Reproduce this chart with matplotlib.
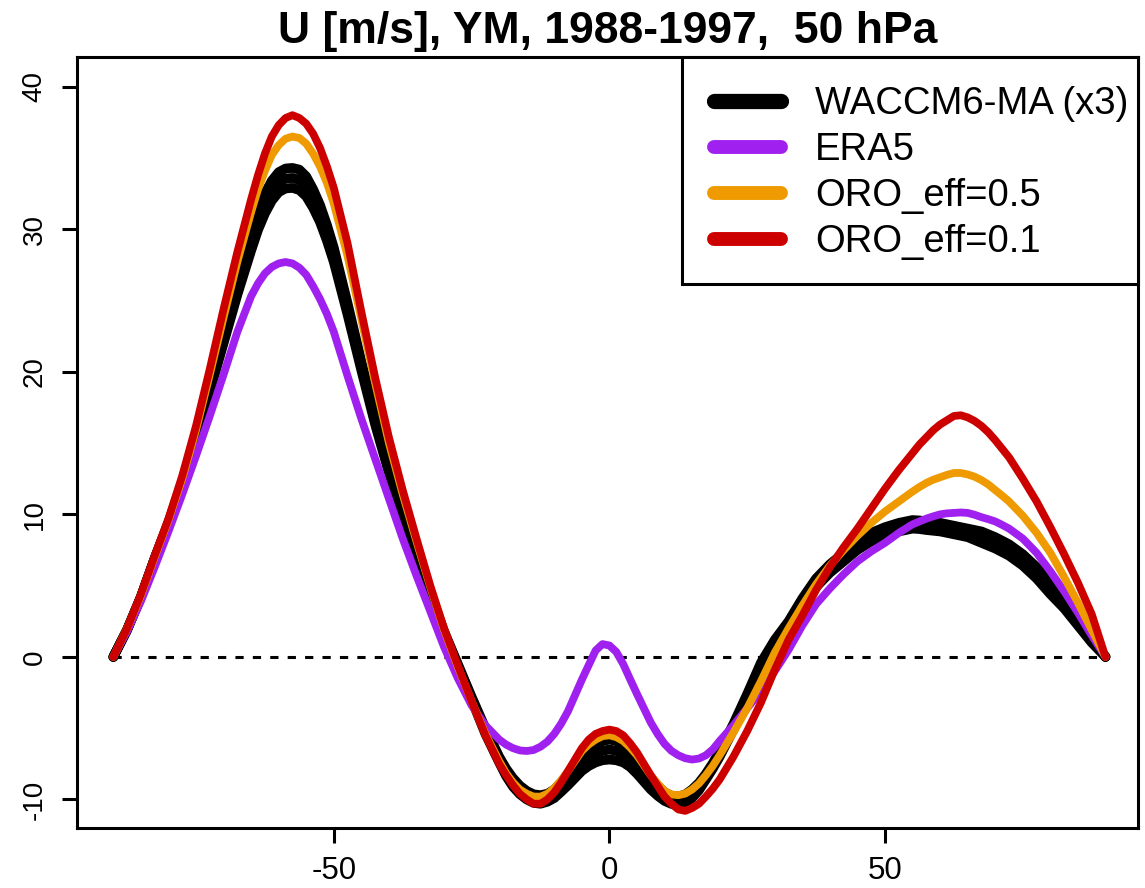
import numpy as np
import matplotlib
matplotlib.use("Agg")
import matplotlib.pyplot as plt
from matplotlib.lines import Line2D
from matplotlib.patches import Rectangle

# Latitude (degrees); finer spacing near the jet maxima and tropical minima
lat = [-90, -87.5, -85, -82.5, -80, -77.5, -75, -72.5, -70, -67.5, -65,
       -63.75, -62.5, -61.25, -60, -58.75, -57.5, -56.25, -55, -53.75, -52.5, -51.25, -50,
       -47.5, -45, -42.5, -40, -37.5, -35, -32.5, -30, -27.5, -25, -22.5, -20,
       -18.75, -17.5, -16.25, -15, -13.75, -12.5, -11.25, -10, -8.75, -7.5, -5,
       -3.75, -2.5, -1.25, 0, 1.25, 2.5, 3.75, 5, 7.5,
       8.75, 10, 11.25, 12.5, 13.75, 15, 16.25, 17.5, 18.75, 20,
       22.5, 25, 27.5, 30, 32.5, 35, 37.5, 40, 42.5, 45, 47.5, 50, 52.5, 55,
       56.25, 57.5, 58.75, 60, 61.25, 62.5, 63.75, 65, 66.25, 67.5, 68.75, 70, 71.25, 72.5,
       75, 77.5, 80, 82.5, 85, 87.5, 90]

# Zonal-mean zonal wind at 50 hPa, yearly mean 1988-1997 [m/s]
waccm_r1 = [0, 1.9, 4.2, 6.9, 9.4, 12.3, 15.6, 19.2, 22.8, 26.4, 29.7,
            31.25, 32.5, 33.4, 34.0, 34.26, 34.3, 34.18, 33.7, 32.8, 31.7, 30.3, 28.7,
            24.8, 20.7, 16.9, 13.3, 10.1, 7.2, 4.5, 1.8, -0.5, -2.8, -5.0, -7.0,
            -7.83, -8.5, -9.03, -9.4, -9.64, -9.7, -9.6, -9.3, -8.8, -8.2, -7.0,
            -6.55, -6.2, -5.9, -5.8, -5.9, -6.2, -6.6, -7.2, -8.5,
            -9.05, -9.5, -9.74, -9.8, -9.65, -9.3, -8.83, -8.2, -7.46, -6.6,
            -4.7, -2.6, -0.4, 1.2, 2.5, 4.1, 5.5, 6.5, 7.3, 8.1, 8.7, 9.1, 9.4, 9.6,
            9.57, 9.5, 9.45, 9.4, 9.3, 9.2, 9.1, 9.0, 8.9, 8.8, 8.6, 8.4, 8.15, 7.9,
            7.2, 6.3, 5.2, 4.0, 2.8, 1.4, 0]
waccm_r2 = [0, 1.9, 4.2, 6.9, 9.4, 12.2, 15.4, 18.9, 22.4, 25.9, 29.1,
            30.6, 31.8, 32.7, 33.3, 33.55, 33.6, 33.45, 33.0, 32.2, 31.1, 29.75, 28.2,
            24.4, 20.4, 16.6, 13.1, 9.9, 7.1, 4.4, 1.7, -0.6, -2.9, -5.2, -7.2,
            -8.09, -8.8, -9.33, -9.7, -9.94, -10.0, -9.88, -9.6, -9.11, -8.6, -7.5,
            -7.1, -6.8, -6.58, -6.5, -6.58, -6.8, -7.18, -7.7, -8.9,
            -9.39, -9.8, -10.03, -10.1, -9.95, -9.6, -9.09, -8.4, -7.65, -6.8,
            -4.9, -2.8, -0.6, 1.0, 2.3, 3.9, 5.2, 6.2, 7.0, 7.8, 8.4, 8.8, 9.1, 9.3,
            9.27, 9.2, 9.15, 9.1, 9.0, 8.9, 8.8, 8.7, 8.55, 8.4, 8.2, 8.0, 7.75, 7.5,
            6.8, 5.9, 4.8, 3.7, 2.5, 1.2, 0]
waccm_r3 = [0, 1.9, 4.2, 6.9, 9.4, 12.1, 15.2, 18.6, 22.0, 25.4, 28.5,
            29.95, 31.1, 32.0, 32.6, 32.86, 32.9, 32.75, 32.3, 31.5, 30.5, 29.2, 27.7,
            24.0, 20.1, 16.3, 12.9, 9.7, 7.0, 4.3, 1.6, -0.7, -3.0, -5.4, -7.4,
            -8.35, -9.1, -9.63, -10.0, -10.24, -10.3, -10.16, -9.9, -9.46, -9.0, -8.0,
            -7.65, -7.4, -7.25, -7.2, -7.25, -7.4, -7.72, -8.2, -9.3,
            -9.74, -10.1, -10.31, -10.4, -10.25, -9.9, -9.35, -8.6, -7.84, -7.0,
            -5.1, -3.0, -0.8, 0.8, 2.1, 3.7, 4.9, 5.9, 6.7, 7.5, 8.1, 8.5, 8.8, 9.0,
            8.97, 8.9, 8.85, 8.8, 8.7, 8.6, 8.5, 8.4, 8.2, 8.0, 7.8, 7.6, 7.35, 7.1,
            6.4, 5.5, 4.4, 3.4, 2.2, 1.0, 0]
era5 = [0, 1.8, 3.9, 6.3, 8.8, 11.4, 14.1, 16.9, 19.8, 22.8, 25.3,
        26.2, 26.9, 27.35, 27.6, 27.7, 27.6, 27.3, 26.8, 26.0, 25.1, 24.05, 22.8,
        19.7, 16.7, 13.9, 11.1, 8.3, 5.7, 3.2, 0.7, -1.5, -3.4, -4.8, -5.8,
        -6.15, -6.4, -6.56, -6.6, -6.53, -6.3, -5.94, -5.4, -4.68, -3.8, -1.6,
        -0.57, 0.45, 0.9, 0.8, 0.35, -0.5, -1.56, -2.6, -4.6,
        -5.41, -6.1, -6.59, -6.9, -7.11, -7.2, -7.13, -6.9, -6.49, -5.9,
        -4.8, -3.6, -2.4, -1.0, 0.5, 2.2, 3.7, 4.8, 5.8, 6.7, 7.4, 8.0, 8.7, 9.3,
        9.5, 9.7, 9.86, 10.0, 10.07, 10.1, 10.13, 10.1, 9.97, 9.8, 9.66, 9.5, 9.26, 9.0,
        8.3, 7.3, 6.0, 4.6, 3.1, 1.5, 0]
oro_05 = [0, 2.0, 4.3, 7.0, 9.6, 12.5, 15.9, 19.8, 23.8, 27.7, 31.2,
          32.8, 34.1, 35.2, 35.9, 36.35, 36.5, 36.4, 36.0, 35.3, 34.4, 33.25, 31.8,
          28.1, 23.7, 19.2, 15.0, 11.4, 8.1, 4.9, 1.9, -0.7, -3.1, -5.4, -7.3,
          -8.15, -8.8, -9.3, -9.6, -9.8, -9.8, -9.6, -9.2, -8.65, -8.0, -6.6,
          -6.14, -5.8, -5.56, -5.5, -5.63, -5.9, -6.35, -6.9, -8.3,
          -8.89, -9.4, -9.65, -9.7, -9.59, -9.3, -8.88, -8.3, -7.65, -6.9,
          -5.3, -3.6, -1.7, 0.3, 2.0, 3.6, 5.1, 6.4, 7.5, 8.5, 9.4, 10.2, 10.9, 11.6,
          11.92, 12.2, 12.43, 12.6, 12.77, 12.9, 12.9, 12.8, 12.64, 12.4, 12.09, 11.7, 11.31, 10.9,
          9.9, 8.7, 7.3, 5.6, 3.8, 1.9, 0]
oro_01 = [0, 2.0, 4.4, 7.1, 9.7, 12.7, 16.2, 20.2, 24.4, 28.4, 32.1,
          33.8, 35.3, 36.5, 37.3, 37.8, 38.0, 37.8, 37.4, 36.7, 35.7, 34.4, 32.9,
          29.0, 24.2, 19.6, 15.4, 11.7, 8.3, 5.0, 2.0, -0.6, -3.1, -5.5, -7.5,
          -8.3, -9.0, -9.6, -10.0, -10.3, -10.3, -10.0, -9.5, -8.8, -8.0, -6.4,
          -5.8, -5.4, -5.2, -5.1, -5.2, -5.5, -6.05, -6.7, -8.3,
          -9.05, -9.8, -10.3, -10.7, -10.8, -10.6, -10.3, -9.8, -9.25, -8.6,
          -7.0, -5.2, -3.2, -0.9, 1.2, 2.9, 4.7, 6.3, 7.7, 9.0, 10.4, 11.8, 13.1, 14.3,
          14.9, 15.4, 15.9, 16.3, 16.6, 16.9, 16.95, 16.8, 16.55, 16.2, 15.75, 15.2, 14.6, 14.0,
          12.5, 10.9, 9.1, 7.2, 5.2, 3.0, 0]

labels = ["WACCM6-MA (x3)", "ERA5", "ORO_eff=0.5", "ORO_eff=0.1"]
colors = ["#000000", "#A020F0", "#EE9A00", "#CD0000"]
xticks = [-50, 0, 50]
yticks = [-10, 0, 10, 20, 30, 40]
title = "U [m/s], YM, 1988-1997,  50 hPa"

plt.rcParams["font.family"] = ["Liberation Sans", "DejaVu Sans"]

fig = plt.figure(figsize=(11.45, 8.88), dpi=100)
ax = fig.add_axes([0.0672, 0.0676, 0.9267, 0.8682])

ax.plot([lat[0], lat[-1]], [0, 0], color="black", lw=2.2, ls=(0, (2.7, 3.0)), zorder=1)

for run in (waccm_r1, waccm_r2, waccm_r3):
    ax.plot(lat, run, color=colors[0], lw=7.0, solid_capstyle="round",
            solid_joinstyle="round", zorder=2)
ax.plot(lat, era5, color=colors[1], lw=5.6, solid_capstyle="round", zorder=3)
ax.plot(lat, oro_05, color=colors[2], lw=5.6, solid_capstyle="round", zorder=4)
ax.plot(lat, oro_01, color=colors[3], lw=5.6, solid_capstyle="round", zorder=5)

ax.set_xlim(-96.6, 95.9)
ax.set_ylim(-12.0, 42.08)
ax.set_xticks(xticks)
ax.set_yticks(yticks)
ax.set_xticklabels([str(v) for v in xticks])
ax.set_yticklabels([str(v) for v in yticks], rotation=90, va="center")
ax.tick_params(axis="both", width=2.2, length=11, color="black")
ax.tick_params(axis="x", pad=9, labelsize=22.5)
ax.tick_params(axis="y", pad=10, labelsize=20)
for sp in ax.spines.values():
    sp.set_linewidth(2.2)

ax.set_title(title, fontsize=32, fontweight="bold", pad=10)

# Legend frame anchored to the top-right corner of the plot box
ax.add_patch(Rectangle((0.5702, 0.7056), 0.4298, 0.2944, transform=ax.transAxes,
                       facecolor="white", edgecolor="black", lw=2.2, zorder=6,
                       clip_on=False))
handles = [Line2D([], [], color=c, lw=11 if i == 0 else 10, solid_capstyle="round")
           for i, c in enumerate(colors)]
leg = ax.legend(handles, labels, loc="upper left", bbox_to_anchor=(0.6004, 0.962),
                fontsize=27.5, frameon=False, borderaxespad=0, borderpad=0,
                handlelength=1.75, handletextpad=0.9, labelspacing=0.26)
leg.set_zorder(7)

fig.savefig("out.png", dpi=100)
